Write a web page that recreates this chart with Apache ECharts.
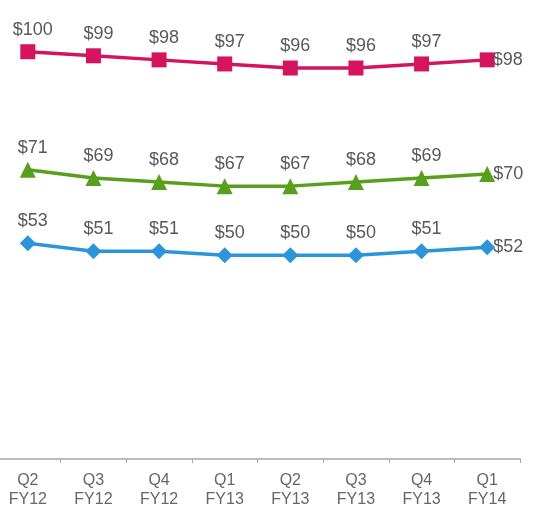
<!DOCTYPE html>
<html>
<head>
<meta charset="utf-8">
<script src="https://cdn.jsdelivr.net/npm/echarts@6/dist/echarts.min.js"></script>
<style>
html, body { margin: 0; padding: 0; background: #fff; }
#chart { width: 533px; height: 517px; }
</style>
</head>
<body>
<div id="chart"></div>
<script>
var quarters = ['Q2\nFY12', 'Q3\nFY12', 'Q4\nFY12', 'Q1\nFY13', 'Q2\nFY13', 'Q3\nFY13', 'Q4\nFY13', 'Q1\nFY14'];
var pinkValues = [100, 99, 98, 97, 96, 96, 97, 98];
var greenValues = [71, 69, 68, 67, 67, 68, 69, 70];
var blueValues = [53, 51, 51, 50, 50, 50, 51, 52];

var labelFont = {
	color: '#595959',
	fontFamily: 'Liberation Sans, Arial, sans-serif',
	fontSize: 18
};

// last point of every line carries its label on the right side
function buildData(values) {
	return values.map(function(v, i) {
		if (i === values.length - 1) {
			return { value: v, label: { position: 'right', distance: -2, offset: [0, 0] } };
		}
		return v;
	});
}

function makeSeries(name, values, color, symbol) {
	return {
		name: name,
		type: 'line',
		data: buildData(values),
		symbol: symbol,
		symbolSize: symbol === 'rect' ? 15 : 16,
		showAllSymbol: true,
		lineStyle: { color: color, width: 3.5 },
		itemStyle: { color: color },
		label: Object.assign({
			show: true,
			position: 'top',
			distance: 5,
			offset: [5, 0],
			formatter: '${c}'
		}, labelFont),
		emphasis: { disabled: true },
		animation: false
	};
}

var myChart = echarts.init(document.getElementById('chart'));
var option = {
	backgroundColor: '#fff',
	grid: {
		left: -5,
		right: 13,
		top: 11,
		bottom: 58,
		containLabel: false,
		outerBoundsMode: 'none'
	},
	xAxis: {
		type: 'category',
		data: quarters,
		boundaryGap: true,
		axisLine: { lineStyle: { color: '#a6a6a6', width: 1.5 } },
		axisTick: { show: true, length: 4, lineStyle: { color: '#a6a6a6' } },
		axisLabel: {
			color: '#666',
			fontFamily: 'Liberation Sans, Arial, sans-serif',
			fontSize: 16,
			lineHeight: 19,
			margin: 12,
			interval: 0
		}
	},
	yAxis: {
		type: 'value',
		show: false,
		min: 0,
		max: 110,
		splitLine: { show: false }
	},
	series: [
		makeSeries('pink', pinkValues, '#d4145f', 'rect'),
		makeSeries('green', greenValues, '#58a01c', 'triangle'),
		makeSeries('blue', blueValues, '#2c95d9', 'diamond')
	]
};
myChart.setOption(option);
</script>
</body>
</html>
